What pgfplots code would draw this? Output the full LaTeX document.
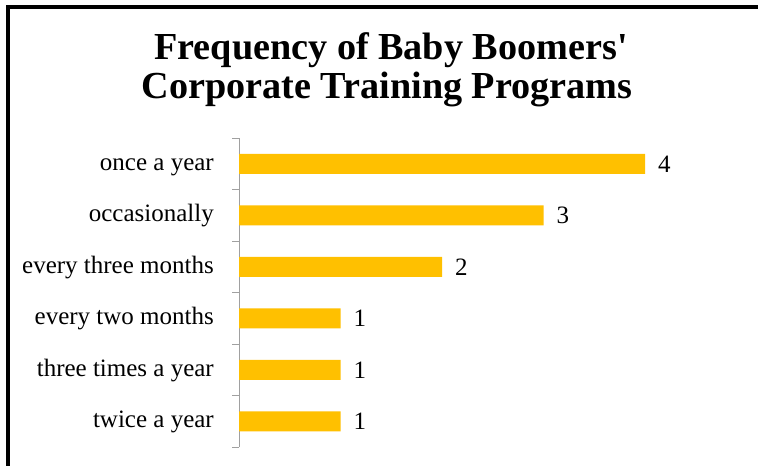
\documentclass[border=0pt]{standalone}
\usepackage{fontspec}
\setmainfont{Liberation Serif}[Ligatures=TeXOff]
\usepackage{pgfplots}
\pgfplotsset{compat=1.18}
\definecolor{bargold}{HTML}{FFC000}
\definecolor{axgray}{HTML}{A0A0A0}
\begin{document}
\begin{tikzpicture}[x=1bp,y=1bp]
\useasboundingbox (0,0) rectangle (759,466);
\fill[white] (0,0) rectangle (759,466);
\draw[line width=4bp, line join=miter] (8,0) -- (8,459) -- (758,459);
\node[anchor=base, inner sep=0pt, font=\fontsize{38.2bp}{39bp}\selectfont\bfseries] at (391,406) {Frequency of Baby Boomers'};
\node[anchor=base, inner sep=0pt, font=\fontsize{38.2bp}{39bp}\selectfont\bfseries] at (387,367) {Corporate Training Programs};
\begin{axis}[
  at={(239bp,18.75bp)}, anchor=south west,
  scale only axis, width=507.5bp, height=309bp,
  xbar, xmin=0, xmax=5, ymin=-0.5, ymax=5.5,
  axis x line=none, axis y line*=left,
  y axis line style={axgray, line width=1bp},
  ytick={0,1,2,3,4,5},
  yticklabels={twice a year, three times a year, every two months, every three months, occasionally, once a year},
  major tick length=0pt,
  minor ytick={-0.5,0.5,1.5,2.5,3.5,4.5,5.5},
  minor tick length=7bp, tick align=outside,
  every tick/.style={axgray, line width=1bp},
  yticklabel style={font=\fontsize{25bp}{26bp}\selectfont, anchor=base east, inner sep=0pt, xshift=-25bp, yshift=-6.3bp},
  /pgf/number format/assume math mode=true,
  bar width=20bp,
  nodes near coords,
  every node near coord/.append style={anchor=west, inner sep=0pt, xshift=13bp, font=\fontsize{25bp}{26bp}\selectfont, black},
  clip=false,
]
\addplot[fill=bargold, draw=none] coordinates {(1,0) (1,1) (1,2) (2,3) (3,4) (4,5)};
\end{axis}
\end{tikzpicture}
\end{document}
